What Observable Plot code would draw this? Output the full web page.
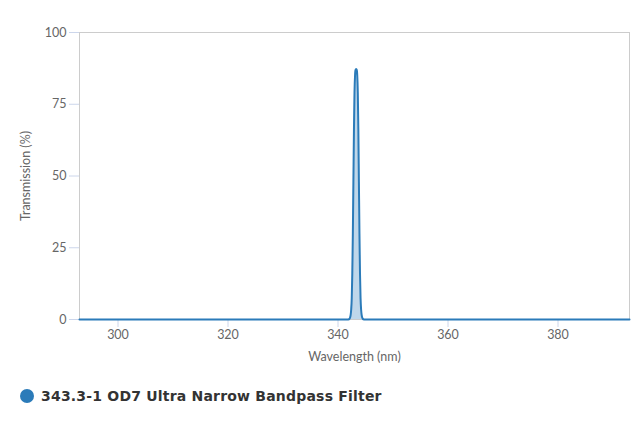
<!DOCTYPE html>
<html>
<head>
<meta charset="utf-8">
<script src="https://cdn.jsdelivr.net/npm/d3@7"></script>
<script src="https://cdn.jsdelivr.net/npm/@observablehq/plot@0.6"></script>
<style>
  html, body { margin: 0; padding: 0; background: #fff; }
  #chart { position: relative; width: 640px; height: 427px; }
  #legend { position: absolute; left: 20px; top: 388px; display: flex; align-items: center;
    font-family: "DejaVu Sans", sans-serif; font-weight: bold; font-size: 14px; letter-spacing: 0.2px; color: #333; }
  #legend .dot { width: 14px; height: 14px; border-radius: 50%; background: #2b7bb9; margin-right: 7px; }
</style>
</head>
<body>
<div id="chart"></div>
<script>
const seriesName = "343.3-1 OD7 Ultra Narrow Bandpass Filter";
const wavelength = [293, 300, 320, 340, 341.5, 341.7, 342.0, 342.1, 342.2, 342.3, 342.4, 342.5, 342.6, 342.7, 342.8, 342.9, 343.0, 343.1, 343.2, 343.3, 343.4, 343.5, 343.6, 343.7, 343.8, 343.9, 344.0, 344.1, 344.2, 344.3, 344.4, 344.5, 344.6, 344.9, 345.1, 360, 380, 393];
const transmission = [0, 0, 0, 0, 0, 0, 0.1, 0.3, 0.7, 1.6, 3.5, 7.5, 16, 30, 48, 66, 79, 85, 87, 87.3, 87, 85, 79, 66, 48, 30, 16, 7.5, 3.5, 1.6, 0.7, 0.3, 0.1, 0, 0, 0, 0, 0];
const xTicks = [300, 320, 340, 360, 380];
const yTicks = [0, 25, 50, 75, 100];

const data = wavelength.map((w, i) => ({w, t: transmission[i]}));
const color = "#2b7bb9";

const plot = Plot.plot({
  width: 640,
  height: 370,
  marginLeft: 79,
  marginRight: 11,
  marginTop: 32,
  marginBottom: 51,
  style: {fontFamily: "Lato, sans-serif", fontSize: "12px", color: "#666", background: "#fff"},
  x: {domain: [293, 393]},
  y: {domain: [0, 100]},
  marks: [
    Plot.frame({stroke: "#cccccc"}),
    Plot.axisX({ticks: xTicks, tickSize: 8, stroke: "#ccd6eb", fill: "#666", fontSize: 12.5, label: "Wavelength (nm)", labelAnchor: "center", labelOffset: 41, labelArrow: "none"}),
    Plot.axisY({ticks: yTicks, tickSize: 10, stroke: "#ccd6eb", fill: "#666", fontSize: 12.5, label: "Transmission (%)", labelAnchor: "center", labelOffset: 58, labelArrow: "none"}),
    Plot.areaY(data, {x: "w", y: "t", fill: color, fillOpacity: 0.3, curve: "monotone-x"}),
    Plot.line(data, {x: "w", y: "t", stroke: color, strokeWidth: 2, curve: "monotone-x"})
  ]
});
document.getElementById("chart").appendChild(plot);
const lg = document.createElement("div");
lg.id = "legend";
lg.innerHTML = '<span class="dot"></span><span></span>';
lg.lastChild.textContent = seriesName;
document.getElementById("chart").appendChild(lg);
</script>
</body>
</html>
